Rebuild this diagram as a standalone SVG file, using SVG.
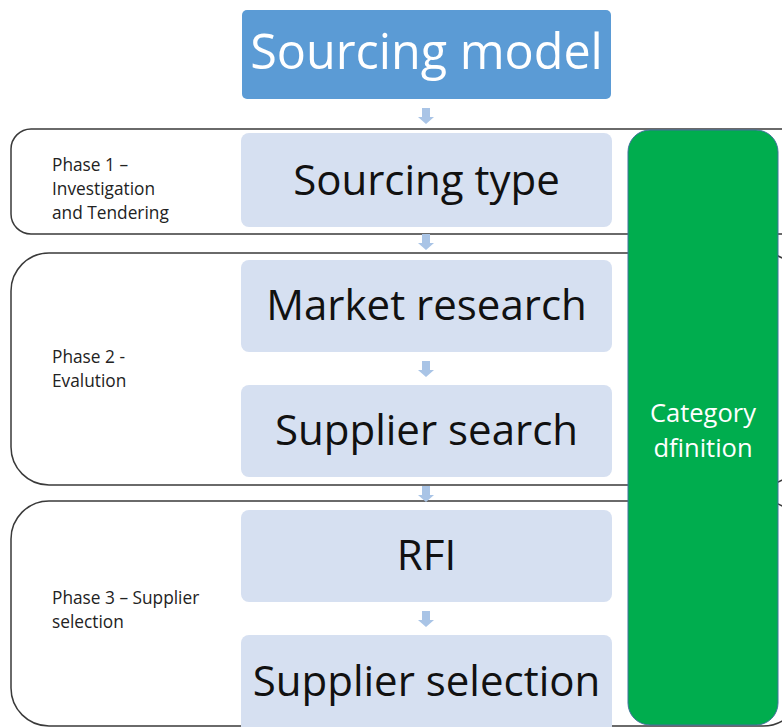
<svg xmlns="http://www.w3.org/2000/svg" width="782" height="727" viewBox="0 0 782 727">
<style>
.phase{fill:#fff;stroke:#3a3a3a;stroke-width:1.5}
.step{fill:#D6E0F1}
.steptxt{font-family:"Open Sans","Noto Sans",sans-serif;font-size:42px;fill:#111;text-anchor:middle}
.ptxt{font-family:"Open Sans","Noto Sans",sans-serif;font-size:17.3px;fill:#222}
.arrow{fill:#A9C4E6}
</style>
<rect width="782" height="727" fill="#fff"/>
<g id="phase1"><rect class="phase" x="11" y="129" width="790" height="105" rx="20"/>
<text class="ptxt" x="52" y="171">Phase 1 –</text><text class="ptxt" x="52" y="195">Investigation</text><text class="ptxt" x="52" y="219">and Tendering</text></g>
<g id="phase2"><rect class="phase" x="11" y="253" width="790" height="232" rx="38"/>
<text class="ptxt" x="52" y="363">Phase 2 -</text><text class="ptxt" x="52" y="387">Evalution</text></g>
<g id="phase3"><rect class="phase" x="11" y="501" width="790" height="225" rx="38"/>
<text class="ptxt" x="52" y="604">Phase 3 – Supplier</text><text class="ptxt" x="52" y="628">selection</text></g>
<g id="sourcing-model"><rect x="242" y="10" width="369" height="89" rx="5" fill="#5B9BD5"/>
<text x="426.5" y="69" font-family="Open Sans, Noto Sans, sans-serif" font-size="48.5" fill="#fff" text-anchor="middle">Sourcing model</text></g>
<g id="sourcing-type"><rect class="step" x="241" y="133" width="371" height="94" rx="8"/><text class="steptxt" x="426.5" y="195">Sourcing type</text></g>
<g id="market-research"><rect class="step" x="241" y="260" width="371" height="92" rx="8"/><text class="steptxt" x="426.5" y="320">Market research</text></g>
<g id="supplier-search"><rect class="step" x="241" y="385" width="371" height="92" rx="8"/><text class="steptxt" x="426.5" y="445">Supplier search</text></g>
<g id="rfi"><rect class="step" x="241" y="510" width="371" height="92" rx="8"/><text class="steptxt" x="426.5" y="570">RFI</text></g>
<g id="supplier-selection"><rect class="step" x="241" y="635" width="371" height="100" rx="8"/><text class="steptxt" x="426.5" y="696">Supplier selection</text></g>
<g id="category-definition"><rect x="628" y="130" width="150" height="595" rx="22" fill="#00AD4E" stroke="#41719C" stroke-width="1"/>
<text x="703" y="422" font-family="Open Sans, Noto Sans, sans-serif" font-size="25.5" fill="#fff" text-anchor="middle">Category</text>
<text x="703" y="457" font-family="Open Sans, Noto Sans, sans-serif" font-size="25.5" fill="#fff" text-anchor="middle">dfinition</text></g>
<g id="connectors">
<path class="arrow" d="M422,108h8v9h4l-8,7l-8,-7h4z"/>
<path class="arrow" d="M422,234h8v9h4l-8,7l-8,-7h4z"/>
<path class="arrow" d="M422,361h8v9h4l-8,7l-8,-7h4z"/>
<path class="arrow" d="M422,486h8v9h4l-8,7l-8,-7h4z"/>
<path class="arrow" d="M422,611h8v9h4l-8,7l-8,-7h4z"/>
</g>
</svg>
